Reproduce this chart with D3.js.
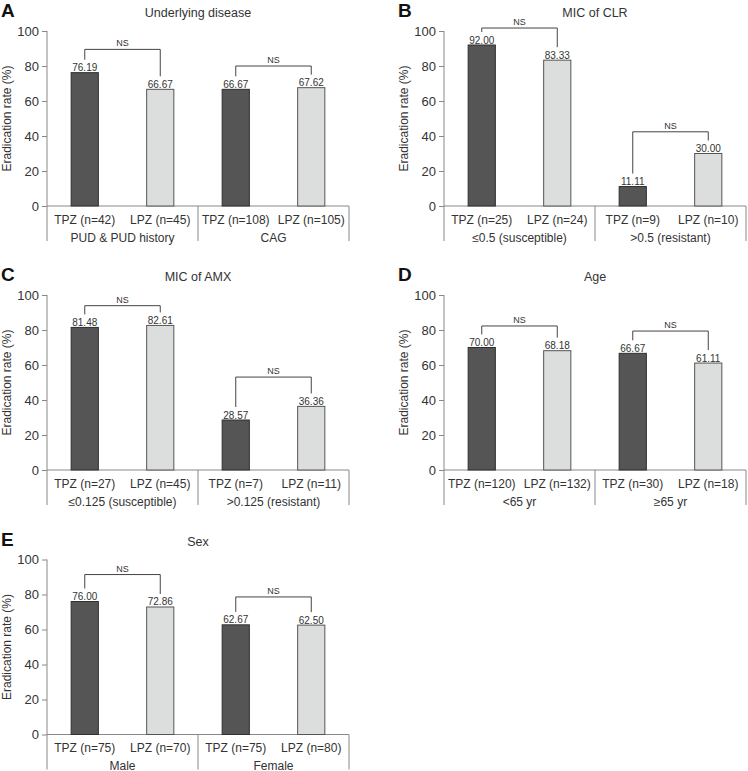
<!DOCTYPE html>
<html>
<head>
<meta charset="utf-8">
<script src="https://cdn.jsdelivr.net/npm/d3@7"></script>
<style>
  body { margin: 0; background: #fff; }
  svg { display: block; font-family: "Liberation Sans", Arial, sans-serif; }
</style>
</head>
<body>
<div id="chart"></div>
<script>
// Panel data
const panelLetters = ["A", "B", "C", "D", "E"];
const panelTitles = ["Underlying disease", "MIC of CLR", "MIC of AMX", "Age", "Sex"];
const groupLabels = [
    ["PUD & PUD history", "CAG"],
    ["≤0.5 (susceptible)", ">0.5 (resistant)"],
    ["≤0.125 (susceptible)", ">0.125 (resistant)"],
    ["<65 yr", "≥65 yr"],
    ["Male", "Female"]
];
const tpzN = [[42, 108], [25, 9], [27, 7], [120, 30], [75, 75]];
const lpzN = [[45, 105], [24, 10], [45, 11], [132, 18], [70, 80]];
const tpzRate = [[76.19, 66.67], [92.00, 11.11], [81.48, 28.57], [70.00, 66.67], [76.00, 62.67]];
const lpzRate = [[66.67, 67.62], [83.33, 30.00], [82.61, 36.36], [68.18, 61.11], [72.86, 62.50]];
// level of the NS bracket (in %)
const nsLevel = [[89.5, 80.0], [101.7, 42.4], [93.9, 53.1], [82.3, 79.4], [91.4, 78.6]];
const nsLabel = "NS";
const yTicks = [0, 20, 40, 60, 80, 100];

const width = 748;
const height = 771;

// where each panel's plot area sits
const plotLeft = [47, 444, 47, 444, 47];
const plotTop = [31, 31, 295, 295, 559.5];
const plotW = 302;
const plotH = 175;

const svg = d3.select("#chart")
    .append("svg")
    .attr("width", width)
    .attr("height", height);

panelLetters.forEach((letter, p) => {
    const g = svg.append("g")
        .attr("transform", `translate(${plotLeft[p]}, ${plotTop[p]})`);

    // build the 4 bars of this panel
    const bars = [];
    groupLabels[p].forEach((grp, k) => {
        bars.push({ key: `t${k}`, drug: "TPZ", n: tpzN[p][k], rate: tpzRate[p][k], group: k });
        bars.push({ key: `l${k}`, drug: "LPZ", n: lpzN[p][k], rate: lpzRate[p][k], group: k });
    });

    const x = d3.scaleBand()
        .domain(bars.map(d => d.key))
        .range([0, plotW])
        .paddingInner(0.64)
        .paddingOuter(0.32);

    const y = d3.scaleLinear()
        .domain([0, 100])
        .range([plotH, 0]);

    const xg = d3.scaleBand()
        .domain(groupLabels[p].map((d, i) => i))
        .range([0, plotW]);

    // panel letter and title
    svg.append("text")
        .attr("x", plotLeft[p] - 46)
        .attr("y", plotTop[p] - 14)
        .attr("font-size", 19)
        .attr("font-weight", "bold")
        .attr("fill", "#111")
        .style("font-stretch", "condensed")
        .text(letter);

    g.append("text")
        .attr("x", plotW / 2)
        .attr("y", -14)
        .attr("text-anchor", "middle")
        .attr("font-size", 12.5)
        .attr("fill", "#333")
        .text(panelTitles[p]);

    // y axis
    const yAxis = g.append("g")
        .call(d3.axisLeft(y).tickValues(yTicks).tickSize(5).tickPadding(3))
        .call(a => a.select(".domain").remove());
    yAxis.selectAll("line").attr("stroke", "#888");
    yAxis.selectAll("text")
        .attr("font-size", 13)
        .attr("fill", "#333")
        .attr("font-family", "Liberation Sans, Arial, sans-serif");

    g.append("text")
        .attr("transform", `translate(-36, ${plotH / 2}) rotate(-90)`)
        .attr("text-anchor", "middle")
        .attr("font-size", 12)
        .attr("fill", "#333")
        .text("Eradication rate (%)");

    // axis lines and group separators
    const axisColor = "#888";
    g.append("line")
        .attr("x1", 0).attr("x2", plotW)
        .attr("y1", y(0)).attr("y2", y(0))
        .attr("stroke", axisColor);
    g.append("line")
        .attr("x1", 0).attr("x2", 0)
        .attr("y1", y(100)).attr("y2", plotH + 35)
        .attr("stroke", axisColor);
    g.selectAll(".sep")
        .data([1, 2])
        .join("line")
        .attr("class", "sep")
        .attr("x1", d => d * plotW / 2).attr("x2", d => d * plotW / 2)
        .attr("y1", y(0)).attr("y2", plotH + 35)
        .attr("stroke", axisColor);

    // bars
    g.selectAll(".bar")
        .data(bars)
        .join("rect")
        .attr("class", "bar")
        .attr("x", d => x(d.key))
        .attr("width", x.bandwidth())
        .attr("y", d => y(d.rate))
        .attr("height", d => y(0) - y(d.rate))
        .attr("fill", d => d.drug === "TPZ" ? "#555555" : "#dcdddd")
        .attr("stroke", d => d.drug === "TPZ" ? "#2e2e2e" : "#555")
        .attr("stroke-width", 1);

    // value labels
    g.selectAll(".val")
        .data(bars)
        .join("text")
        .attr("class", "val")
        .attr("x", d => x(d.key) + x.bandwidth() / 2)
        .attr("y", d => y(d.rate) - 1.5)
        .attr("text-anchor", "middle")
        .attr("font-size", 10)
        .attr("fill", "#333")
        .text(d => d.rate.toFixed(2));

    // category labels
    g.selectAll(".cat")
        .data(bars)
        .join("text")
        .attr("class", "cat")
        .attr("x", d => x(d.key) + x.bandwidth() / 2)
        .attr("y", plotH + 17.5)
        .attr("text-anchor", "middle")
        .attr("font-size", 12)
        .attr("fill", "#333")
        .text(d => `${d.drug} (n=${d.n})`);

    // group labels
    g.selectAll(".grp")
        .data(groupLabels[p])
        .join("text")
        .attr("class", "grp")
        .attr("x", (d, i) => xg(i) + xg.bandwidth() / 2)
        .attr("y", plotH + 35.5)
        .attr("text-anchor", "middle")
        .attr("font-size", 12)
        .attr("fill", "#333")
        .text(d => d);

    // NS brackets
    groupLabels[p].forEach((grp, k) => {
        const a = bars[k * 2], b = bars[k * 2 + 1];
        const xa = x(a.key) + x.bandwidth() / 2;
        const xb = x(b.key) + x.bandwidth() / 2;
        const top = y(nsLevel[p][k]);
        const path = d3.path();
        path.moveTo(xa, y(a.rate) - 13);
        path.lineTo(xa, top);
        path.lineTo(xb, top);
        path.lineTo(xb, y(b.rate) - 13);
        g.append("path")
            .attr("d", path.toString())
            .attr("fill", "none")
            .attr("stroke", "#444")
            .attr("stroke-width", 1);
        g.append("text")
            .attr("x", (xa + xb) / 2)
            .attr("y", top - 3)
            .attr("text-anchor", "middle")
            .attr("font-size", 9)
            .attr("fill", "#333")
            .text(nsLabel);
    });
});
</script>
</body>
</html>
